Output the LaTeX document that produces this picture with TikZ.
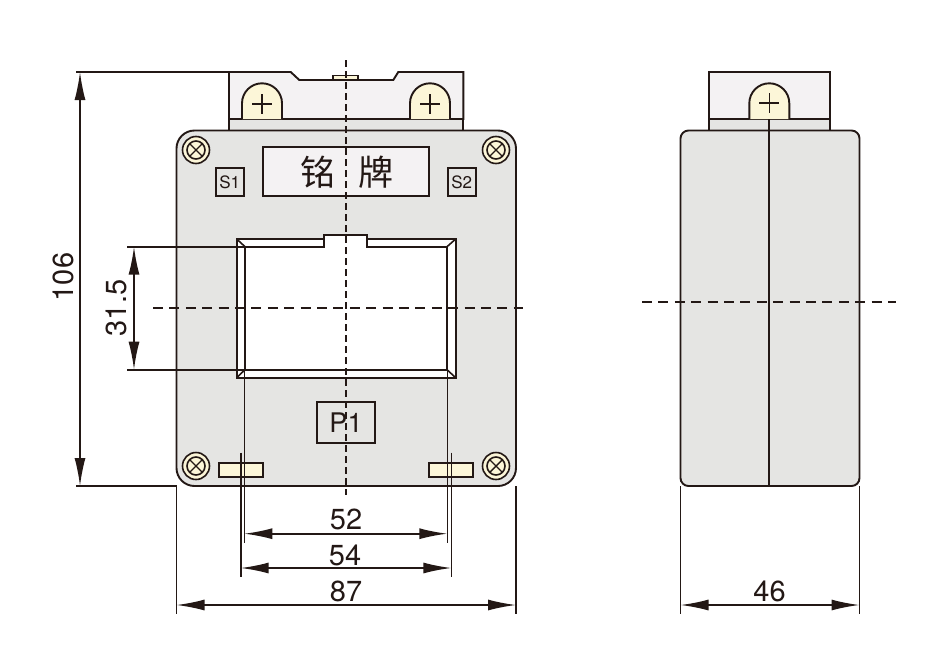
\documentclass[tikz,border=0pt]{standalone}
\usepackage{fontspec}
\setmainfont{TeX Gyre Heros}
\newfontfamily\cjk{Noto Sans CJK SC}
\usetikzlibrary{arrows.meta}
\definecolor{ink}{HTML}{231815}
\definecolor{bodygray}{HTML}{E5E5E3}
\definecolor{cream}{HTML}{FCF6D8}
\definecolor{termfill}{HTML}{F4F2F3}
\tikzset{
  x=1pt,y=-1pt,
  outline/.style={draw=ink,line width=1.9pt,line join=miter},
  thinline/.style={draw=ink,line width=1.6pt},
  dimarrow/.style={draw=ink,line width=1.7pt,{Latex[length=28pt,width=11pt]}-{Latex[length=28pt,width=11pt]}},
  vdash/.style={draw=ink,line width=1.8pt,dash pattern=on 7pt off 4pt},
  hdash/.style={draw=ink,line width=1.5pt,dash pattern=on 10pt off 6.4pt},
  dimtext/.style={font=\fontsize{29}{29}\selectfont,text=ink,inner sep=0pt},
  labelbox/.style={draw=ink,line width=1.8pt,fill=bodygray,inner sep=0pt,minimum width=#1,text=ink},
  labelbox/.default=28pt,
}
\newcommand{\screwhead}[2]{%
  \fill[cream] (#1,#2) circle (13.5pt);
  \draw[ink,line width=1.6pt] (#1,#2) circle (13.5pt);
  \draw[ink,line width=1.6pt] (#1,#2) circle (9pt);
  \draw[ink,line width=1.4pt] (#1-6.2,#2-6.2) -- (#1+6.2,#2+6.2) (#1-6.2,#2+6.2) -- (#1+6.2,#2-6.2);
}
\newcommand{\arch}[2]{% centre x, plus y
  \draw[outline,fill=cream] (#1-20,119) -- (#1-20,103.3) arc[start angle=180,end angle=0,radius=20pt] -- (#1+20,119);
  \draw[ink,line width=1.5pt] (#1-10,#2) -- (#1+10,#2) (#1,#2-10) -- (#1,#2+10);
}
\begin{document}
\begin{tikzpicture}
\useasboundingbox (0,0) rectangle (946,667);
\fill[white] (0,0) rectangle (946,667);

% named anchors
\coordinate (tl) at (229,72);
\coordinate (bl) at (176.5,486);
\coordinate (dimTopL) at (76,72);
\coordinate (dimBotL) at (76,486);
\coordinate (a106t) at (80,72);
\coordinate (a106b) at (80,486);
\coordinate (w1) at (245,246.7);
\coordinate (w2) at (245,369.7);
\coordinate (w1e) at (127,246.7);
\coordinate (w2e) at (127,369.7);
\coordinate (a31t) at (134,246.7);
\coordinate (a31b) at (134,369.7);

% front: terminal
\draw[outline,fill=cream] (333,80) -- (333,75.5) -- (358,75.5) -- (358,80);
\draw[outline,fill=termfill] (229,119) -- (229,72) -- (290.7,72) -- (299.3,80) -- (393.3,80) -- (398.3,72) -- (463.3,72) -- (463.3,119) -- cycle;
\draw[outline,fill=bodygray] (229,119) rectangle (463.3,130.5);
\arch{262}{104}
\arch{430}{104}

% front: body
\draw[outline,fill=bodygray,rounded corners=18pt] (176.5,130.5) rectangle (516,486);
\screwhead{196}{150}
\screwhead{496}{150}
\screwhead{196}{466}
\screwhead{496}{466}

\node[draw=ink,line width=1.8pt,fill=termfill,minimum width=166.6pt,minimum height=48.7pt,inner sep=0pt] (plate) at (346,171.6) {};
\node[text=ink,inner sep=0pt,font=\cjk\fontsize{35}{35}\selectfont] (plateA) at (318,172.5) {铭};
\node[text=ink,inner sep=0pt,font=\cjk\fontsize{35}{35}\selectfont] (plateB) at (376,172.5) {牌};
\node[labelbox=28.3pt,minimum height=28pt,font=\fontsize{17}{17}\selectfont] (sone) at (229.8,182.3) {S1};
\node[labelbox=28.3pt,minimum height=28pt,font=\fontsize{17}{17}\selectfont] (stwo) at (461.8,182.3) {S2};

% window
\draw[outline,line width=1.7pt,fill=white] (236.7,239) -- (324.3,239) -- (324.3,235) -- (367.3,235) -- (367.3,239) -- (455.7,239) -- (455.7,377.7) -- (236.7,377.7) -- cycle;
\draw[outline,line width=1.7pt] (324.3,235) -- (324.3,246.7) -- (245,246.7) -- (245,369.7) -- (447,369.7) -- (447,246.7) -- (367.3,246.7) -- (367.3,235);
\draw[thinline] (236.7,239) -- (245,246.7) (455.7,239) -- (447,246.7) (236.7,377.7) -- (245,369.7) (455.7,377.7) -- (447,369.7);

\node[labelbox=57.4pt,minimum height=41.3pt,font=\fontsize{27}{27}\selectfont] (pone) at (346,422.3) {P1};

% foot tabs
\node[draw=ink,line width=1.8pt,fill=cream,minimum width=43.7pt,minimum height=14.6pt,inner sep=0pt] (footL) at (240.8,470) {};
\node[draw=ink,line width=1.8pt,fill=cream,minimum width=44pt,minimum height=14.6pt,inner sep=0pt] (footR) at (451.3,470) {};

% centre lines
\draw[vdash] (346,60) -- (346,495);
\draw[hdash] (153,308) -- (523,308);

% front dimensions
\draw[thinline] (dimTopL) -- (tl);
\draw[thinline] (dimBotL) -- (bl);
\draw[dimarrow] (a106t) -- (a106b);
\node[dimtext,rotate=90] (t106) at (63,277) {106};
\draw[thinline] (w1e) -- (w1);
\draw[thinline] (w2e) -- (w2);
\draw[dimarrow] (a31t) -- (a31b);
\node[dimtext,rotate=90] (t315) at (116,308) {31.5};

\draw[thinline] (244.3,370) -- (244.3,542.7);
\draw[thinline] (447.3,370) -- (447.3,542.7);
\draw[dimarrow] (244.3,533.7) -- (447.3,533.7);
\node[dimtext] (t52) at (346,519) {52};
\draw[thinline] (240.7,452.7) -- (240.7,577);
\draw[thinline] (451.3,452.7) -- (451.3,577);
\draw[dimarrow] (240.7,568) -- (451.3,568);
\node[dimtext] (t54) at (345,555) {54};
\draw[thinline] (176.5,486) -- (176.5,614);
\draw[thinline] (516,486) -- (516,614);
\draw[dimarrow] (176.5,605) -- (516,605);
\node[dimtext] (t87) at (346,591) {87};

% side view
\draw[outline,fill=termfill] (708.7,72) rectangle (830.3,119);
\draw[outline,fill=bodygray] (708.7,119) rectangle (830.3,130.5);
\arch{769.3}{103}
\draw[outline,fill=bodygray,rounded corners=8pt] (680.5,130.5) rectangle (859.5,486);
\draw[outline] (769.3,119) -- (769.3,486);
\draw[hdash] (642,302) -- (896,302);
\draw[thinline] (680.5,486) -- (680.5,614);
\draw[thinline] (859.5,486) -- (859.5,614);
\draw[dimarrow] (680.5,605) -- (859.5,605);
\node[dimtext] (t46) at (769.5,591) {46};
\end{tikzpicture}
\end{document}
